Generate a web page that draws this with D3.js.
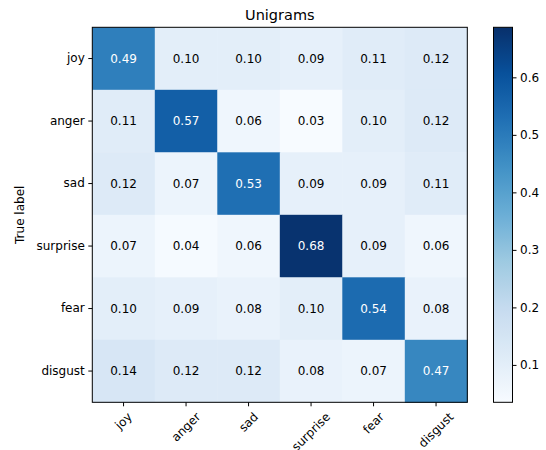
<!DOCTYPE html>
<html>
<head>
<meta charset="utf-8">
<script src="https://cdn.jsdelivr.net/npm/d3@7"></script>
<style>
  html, body { margin: 0; padding: 0; background: #fff; }
  svg { display: block; font-family: "DejaVu Sans", sans-serif; }
</style>
</head>
<body>
<svg id="chart" width="546" height="450"></svg>
<script>
// Emotion classes (rows = true label, columns = predicted)
const labels = ["joy", "anger", "sad", "surprise", "fear", "disgust"];

// Row-normalised confusion matrix, one array per true label
const joyRow      = [0.49, 0.10, 0.10, 0.09, 0.11, 0.12];
const angerRow    = [0.11, 0.57, 0.06, 0.03, 0.10, 0.12];
const sadRow      = [0.12, 0.07, 0.53, 0.09, 0.09, 0.11];
const surpriseRow = [0.07, 0.04, 0.06, 0.68, 0.09, 0.06];
const fearRow     = [0.10, 0.09, 0.08, 0.10, 0.54, 0.08];
const disgustRow  = [0.14, 0.12, 0.12, 0.08, 0.07, 0.47];
const matrix = [joyRow, angerRow, sadRow, surpriseRow, fearRow, disgustRow];

// Colour bar range and ticks
const colorDomain = [0.035, 0.687];
const colorTicks = [0.1, 0.2, 0.3, 0.4, 0.5, 0.6];

// Blues colour map (nine-step sequential ramp, linear between steps)
const bluesStops = ["#f7fbff", "#deebf7", "#c6dbef", "#9ecae1", "#6baed6",
                    "#4292c6", "#2171b5", "#08519c", "#08306b"];
const blues = d3.piecewise(d3.interpolateRgb, bluesStops);

const svg = d3.select("#chart");
const plot = { left: 92.3, top: 27.3, size: 375 };

const x = d3.scaleBand().domain(labels).range([plot.left, plot.left + plot.size]);
const y = d3.scaleBand().domain(labels).range([plot.top, plot.top + plot.size]);
const color = d3.scaleSequential(blues).domain(colorDomain).clamp(true);

const cells = matrix.flatMap((row, i) =>
  row.map((v, j) => ({ t: labels[i], p: labels[j], v })));

// Heat-map cells
svg.append("g").selectAll("rect").data(cells).join("rect")
  .attr("x", d => x(d.p))
  .attr("y", d => y(d.t))
  .attr("width", x.bandwidth() + 0.5)
  .attr("height", y.bandwidth() + 0.5)
  .attr("fill", d => color(d.v));

// Cell annotations
const thresh = d3.max(cells, d => d.v) / 2;
svg.append("g").selectAll("text").data(cells).join("text")
  .attr("x", d => x(d.p) + x.bandwidth() / 2)
  .attr("y", d => y(d.t) + y.bandwidth() / 2)
  .attr("text-anchor", "middle")
  .attr("dominant-baseline", "central")
  .attr("font-size", 12)
  .attr("fill", d => d.v > thresh ? "#ffffff" : "#000000")
  .text(d => d.v.toFixed(2));

// Frame
svg.append("rect")
  .attr("x", plot.left).attr("y", plot.top)
  .attr("width", plot.size).attr("height", plot.size)
  .attr("fill", "none").attr("stroke", "#000").attr("stroke-width", 1);

// Left axis
const yAxis = svg.append("g")
  .attr("transform", `translate(${plot.left},0)`)
  .call(d3.axisLeft(y).tickSize(4).tickPadding(3.5));
yAxis.select(".domain").remove();
yAxis.selectAll("text").attr("font-size", 12).attr("font-family", "DejaVu Sans").attr("fill", "#000");

// Bottom axis, labels rotated 45° and centred under each tick
const xBottom = plot.top + plot.size;
const xAxis = svg.append("g")
  .attr("transform", `translate(0,${xBottom})`)
  .call(d3.axisBottom(x).tickSize(4).tickFormat(""));
xAxis.select(".domain").remove();

const xLab = svg.append("g");
labels.forEach(lab => {
  const t = xLab.append("text")
    .attr("font-size", 12)
    .attr("text-anchor", "middle")
    .attr("dominant-baseline", "central")
    .attr("fill", "#000")
    .text(lab);
  const w = t.node().getComputedTextLength();
  const h = 12 * 1.16;
  const half = (w + h) / Math.SQRT2 / 2;
  const cx = x(lab) + x.bandwidth() / 2;
  const cy = xBottom + 4 + 3.5 + half;
  t.attr("transform", `translate(${cx},${cy}) rotate(-45)`);
});

// Title
svg.append("text")
  .attr("x", plot.left + plot.size / 2)
  .attr("y", 19.5)
  .attr("text-anchor", "middle")
  .attr("font-size", 14.5)
  .attr("fill", "#000")
  .text("Unigrams");

// Y axis title
svg.append("text")
  .attr("transform", `translate(20,${plot.top + plot.size / 2}) rotate(-90)`)
  .attr("text-anchor", "middle")
  .attr("dominant-baseline", "central")
  .attr("font-size", 12)
  .attr("fill", "#000")
  .text("True label");

// Colour bar
const cb = { left: 493.5, width: 19 };
const cbScale = d3.scaleLinear().domain(colorDomain).range([plot.top + plot.size, plot.top]);
const defs = svg.append("defs");
const grad = defs.append("linearGradient")
  .attr("id", "cbgrad").attr("x1", 0).attr("y1", 1).attr("x2", 0).attr("y2", 0);
d3.range(0, 1.0001, 0.02).forEach(f => {
  grad.append("stop")
    .attr("offset", f)
    .attr("stop-color", color(colorDomain[0] + f * (colorDomain[1] - colorDomain[0])));
});
svg.append("rect")
  .attr("x", cb.left).attr("y", plot.top)
  .attr("width", cb.width).attr("height", plot.size)
  .attr("fill", "url(#cbgrad)")
  .attr("stroke", "#000").attr("stroke-width", 1);

const cbAxis = svg.append("g")
  .attr("transform", `translate(${cb.left + cb.width},0)`)
  .call(d3.axisRight(cbScale).tickValues(colorTicks).tickSize(4).tickPadding(3.5)
    .tickFormat(d3.format(".1f")));
cbAxis.select(".domain").remove();
cbAxis.selectAll("text").attr("font-size", 12).attr("font-family", "DejaVu Sans").attr("fill", "#000");
</script>
</body>
</html>
